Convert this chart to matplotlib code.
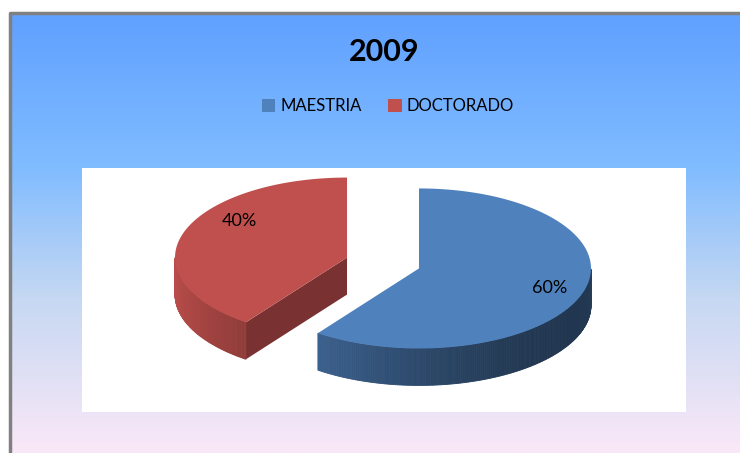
import numpy as np
import matplotlib
matplotlib.use("Agg")
import matplotlib.pyplot as plt
from matplotlib.patches import Polygon, Rectangle, Patch
from matplotlib.colors import LinearSegmentedColormap, to_rgb

# data
labels = ["MAESTRIA", "DOCTORADO"]
values = [60, 40]
colors = ["#4F81BD", "#C0504D"]
title = "2009"

plt.rcParams['font.family'] = ['Lato', 'DejaVu Sans']

fig = plt.figure(figsize=(7.4, 4.53), dpi=100)
ax = fig.add_axes([0, 0, 1, 1])
ax.set_xlim(0, 740)
ax.set_ylim(453, 0)
ax.axis('off')

# background gradient + border
bg = LinearSegmentedColormap.from_list(
    "bg", [(0, "#60A0FF"), (0.35, "#80BCFF"), (0.65, "#C6D8F2"), (1, "#FAE8F8")])
grad = np.linspace(0, 1, 256).reshape(-1, 1)
ax.imshow(grad, cmap=bg, aspect='auto', extent=[10, 740, 453, 13], zorder=0)
ax.plot([9.5, 9.5, 740], [453, 12.5, 12.5], color="#808080", lw=2.5, zorder=1)

# plot area
ax.add_patch(Rectangle((82, 168), 604, 244, facecolor="white", edgecolor="none", zorder=1))

# 3d pie geometry (pixels)
cx, cy = 383, 263
rx, ry = 172, 80
depth = 37
explode = 0.22


def shade(c, b):
    r, g, bl = to_rgb(c)
    return (r * b, g * b, bl * b)


def side_b(t):
    return 0.72 - 0.3 * np.cos(t + np.radians(30))


# first slice starts at 12 o'clock going clockwise
fracs = np.array(values) / np.sum(values)
start = np.pi / 2
slices = []
for f in fracs:
    t2 = start
    t1 = start - 2 * np.pi * f
    slices.append((t1, t2))
    start = t1

order = [1, 0]  # back slice first
for i in order:
    t1, t2 = slices[i]
    mid = (t1 + t2) / 2
    ox = cx + explode * rx * np.cos(mid)
    oy = cy - explode * ry * np.sin(mid)
    col = colors[i]

    def pt(t, d=0):
        return ox + rx * np.cos(t), oy - ry * np.sin(t) + d

    # radial faces
    for t, sgn in [(t1, -1), (t2, 1)]:
        nrm = t + sgn * np.pi / 2
        if np.sin(nrm) < -1e-6:
            ex, ey = pt(t)
            ax.add_patch(Polygon([(ox, oy), (ex, ey), (ex, ey + depth), (ox, oy + depth)],
                                 closed=True, facecolor=shade(col, 0.63), edgecolor='none', zorder=2))

    # outer side, front part only
    ts = np.linspace(t1, t2, 300)
    vis = np.sin(ts) < 0
    tv = ts[vis]
    for a, b in zip(tv[:-1], tv[1:]):
        p1, p2 = pt(a), pt(b)
        c2 = shade(col, side_b((a + b) / 2))
        ax.add_patch(Polygon([p1, p2, (p2[0], p2[1] + depth), (p1[0], p1[1] + depth)],
                             closed=True, facecolor=c2, edgecolor=c2, lw=0.6, zorder=3))

    # top face
    arc = [pt(t) for t in ts]
    ax.add_patch(Polygon([(ox, oy)] + arc, closed=True, facecolor=col, edgecolor='none', zorder=4))

    # percentage labels
    lr = [0.8, 0.66][i]
    lift = [0, 20][i]
    lx = ox + lr * rx * np.cos(mid)
    ly = oy - lr * ry * np.sin(mid) - lift
    ax.text(lx, ly, f"{round(fracs[i] * 100)}%", ha='center', va='center', fontsize=13,
            color='black', zorder=5)

ax.text(384, 52, title, ha='center', va='center', fontsize=22, fontweight='bold', zorder=5)

handles = [Patch(facecolor=c, edgecolor='none') for c in colors]
ax.legend(handles, labels, loc='center', bbox_to_anchor=(388 / 740, 1 - 106 / 453),
          ncol=2, frameon=False, fontsize=12, handlelength=0.8, handleheight=0.8,
          handletextpad=0.3, columnspacing=1.6)

fig.savefig("out.png", dpi=100)
